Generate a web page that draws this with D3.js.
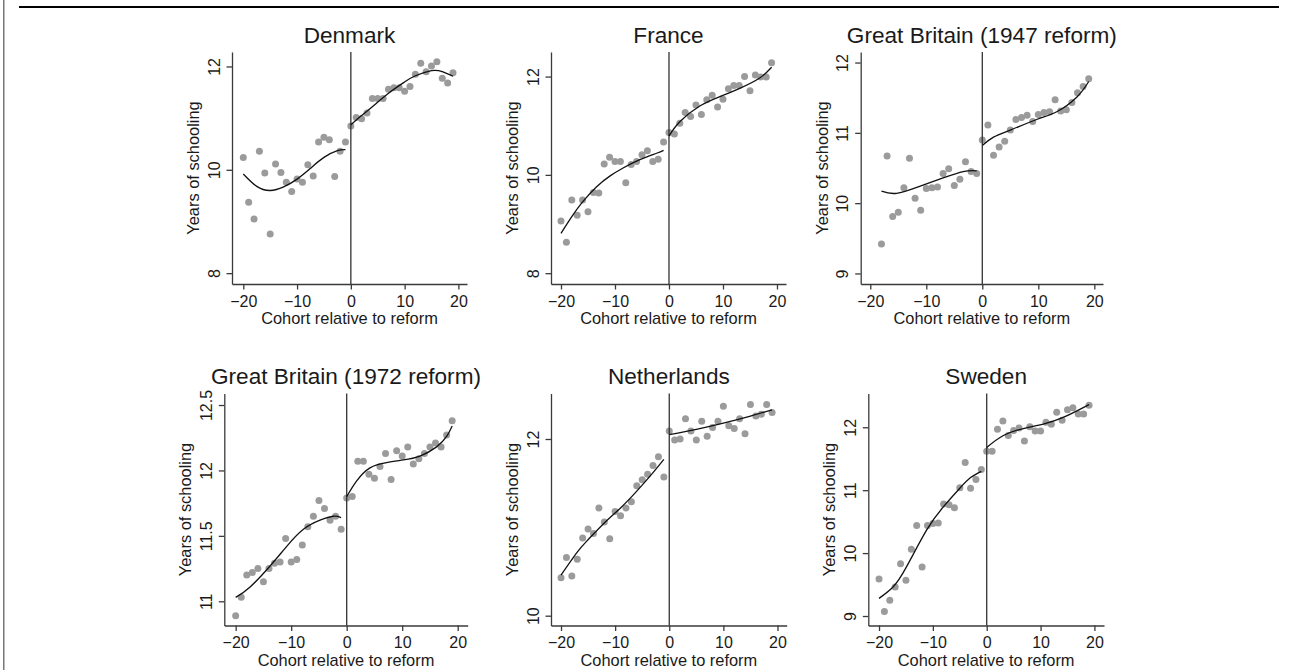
<!DOCTYPE html>
<html>
<head>
<meta charset="utf-8">
<script src="https://cdn.jsdelivr.net/npm/d3@7"></script>
<style>
  html, body { margin: 0; padding: 0; background: #fff; }
  svg { display: block; }
  text { font-family: "Liberation Sans", Arial, Helvetica, sans-serif; fill: #1a1a1a; }
</style>
</head>
<body>
<svg id="chart" width="1291" height="670"></svg>
<script>
// ---------------- DATA ----------------
const cohorts = [-20,-19,-18,-17,-16,-15,-14,-13,-12,-11,-10,-9,-8,-7,-6,-5,-4,-3,-2,-1,
                 0,1,2,3,4,5,6,7,8,9,10,11,12,13,14,15,16,17,18,19];
const cohorts1947 = [-18,-17,-16,-15,-14,-13,-12,-11,-10,-9,-8,-7,-6,-5,-4,-3,-2,-1,
                 0,1,2,3,4,5,6,7,8,9,10,11,12,13,14,15,16,17,18,19];
const xTicks = [-20,-10,0,10,20];

const titles = ["Denmark","France","Great Britain (1947 reform)",
                "Great Britain (1972 reform)","Netherlands","Sweden"];
const xTitle = "Cohort relative to reform";
const yTitle = "Years of schooling";

// Years of schooling by cohort (scatter)
const denmark = [10.24,9.37,9.05,10.36,9.94,8.76,10.11,9.95,9.76,9.58,9.82,9.76,10.10,9.88,10.54,10.63,10.58,9.87,10.36,10.54,
                 10.85,11.01,10.99,11.10,11.38,11.38,11.38,11.56,11.59,11.59,11.52,11.61,11.85,12.06,11.90,12.01,12.09,11.77,11.68,11.88];
const france = [9.06,8.63,9.49,9.18,9.49,9.25,9.64,9.63,10.22,10.36,10.27,10.27,9.84,10.21,10.27,10.41,10.49,10.27,10.32,10.67,
                10.86,10.83,11.05,11.27,11.19,11.42,11.23,11.53,11.62,11.38,11.54,11.75,11.82,11.82,12.00,11.71,12.03,11.99,11.99,12.28];
const gb1947 = [9.42,10.67,9.81,9.87,10.22,10.64,10.07,9.90,10.21,10.22,10.23,10.42,10.49,10.25,10.34,10.59,10.45,10.42,
                10.90,11.11,10.68,10.80,10.88,11.04,11.19,11.22,11.25,11.16,11.26,11.29,11.30,11.47,11.31,11.33,11.43,11.57,11.66,11.77];
const gb1972 = [10.89,11.03,11.20,11.22,11.25,11.15,11.25,11.29,11.30,11.48,11.30,11.32,11.43,11.57,11.65,11.77,11.71,11.62,11.65,11.55,
                11.79,11.80,12.07,12.07,11.97,11.94,12.03,12.13,11.93,12.15,12.11,12.18,12.05,12.09,12.13,12.18,12.21,12.18,12.27,12.38];
const netherlands = [10.43,10.66,10.45,10.64,10.88,10.98,10.93,11.22,11.06,10.87,11.18,11.13,11.22,11.29,11.47,11.54,11.60,11.70,11.80,11.57,
                     12.09,11.99,12.00,12.23,12.09,11.99,12.20,12.03,12.13,12.20,12.37,12.15,12.12,12.23,12.06,12.39,12.26,12.28,12.39,12.30];
const sweden = [9.59,9.07,9.25,9.46,9.83,9.57,10.06,10.44,9.78,10.44,10.47,10.48,10.78,10.77,10.72,11.04,11.44,11.03,11.17,11.33,
                11.62,11.62,11.97,12.10,11.87,11.95,11.99,11.78,12.01,11.94,11.94,12.08,12.05,12.24,12.11,12.28,12.31,12.21,12.21,12.35];

// Fitted curves, [cohort, years]
const denmarkFitPre  = [[-20,9.92],[-17.5,9.68],[-15,9.60],[-12.5,9.67],[-10,9.82],[-7.5,10.03],[-5,10.24],[-2.5,10.37],[-1,10.39]];
const denmarkFitPost = [[0,10.87],[2,11.05],[4,11.22],[7,11.48],[10,11.70],[12,11.82],[15,11.92],[17,11.90],[19,11.81]];
const franceFitPre   = [[-20,8.81],[-18,9.15],[-16,9.45],[-13.4,9.76],[-10.9,9.98],[-8.5,10.14],[-5.4,10.31],[-2.3,10.44],[-1,10.50]];
const franceFitPost  = [[0,10.79],[2,11.08],[5.7,11.40],[9.4,11.59],[13.1,11.76],[16.8,11.97],[19,12.19]];
const gb1947FitPre   = [[-18,10.17],[-15.3,10.14],[-11.2,10.24],[-7,10.36],[-3.4,10.45],[-1,10.46]];
const gb1947FitPost  = [[0,10.82],[2,10.94],[5,11.04],[9.7,11.19],[13.3,11.30],[16.9,11.51],[19,11.73]];
const gb1972FitPre   = [[-20,11.03],[-17.4,11.11],[-13.8,11.27],[-10.8,11.42],[-7.8,11.55],[-4.8,11.62],[-2.4,11.65],[-1,11.64]];
const gb1972FitPost  = [[0,11.80],[1.8,11.92],[4.2,12.02],[7.2,12.06],[10.2,12.08],[13.2,12.11],[16.2,12.18],[18,12.26],[19,12.34]];
const netherlandsFitPre  = [[-20,10.46],[-17,10.72],[-15,10.86],[-12,11.05],[-9,11.22],[-6,11.41],[-3,11.62],[-1,11.77]];
const netherlandsFitPost = [[0,12.05],[5,12.11],[10,12.18],[15,12.26],[19,12.33]];
const swedenFitPre   = [[-20,9.28],[-17.4,9.46],[-14.9,9.78],[-11.2,10.36],[-8.1,10.73],[-5,11.03],[-3,11.20],[-1,11.30]];
const swedenFitPost  = [[0,11.68],[3.1,11.87],[6.8,11.98],[10.5,12.05],[14.3,12.16],[19,12.36]];

// Y tick labels per panel
const denmarkTicks = [8,10,12];
const franceTicks = [8,10,12];
const gb1947Ticks = [9,10,11,12];
const gb1972Ticks = [11,11.5,12,12.5];
const netherlandsTicks = [10,12];
const swedenTicks = [9,10,11,12];

// Axis ranges (value at plot edges)
const xRanges = [[-22.1,21.6],[-21.85,21.67],[-21.71,21.55],[-22.05,21.8],[-21.85,21.7],[-21.99,21.78]];
const yRanges = [[7.79,12.28],[7.78,12.50],[8.85,12.15],[10.815,12.588],[9.889,12.515],[8.849,12.537]];

// ---------------- LAYOUT ----------------
const layout = [
  {l:232,   r:467,   t:52,    b:284},
  {l:551,   r:786,   t:52,    b:284},
  {l:860.7, r:1103,  t:52,    b:284},
  {l:224.3, r:467.7, t:393.5, b:625.5},
  {l:551,   r:786.7, t:393.5, b:625.5},
  {l:868.3, r:1104,  t:393.5, b:625.5}
];

const panels = [
  {values: denmark,     xs: cohorts,     pre: denmarkFitPre,     post: denmarkFitPost,     yt: denmarkTicks},
  {values: france,      xs: cohorts,     pre: franceFitPre,      post: franceFitPost,      yt: franceTicks},
  {values: gb1947,      xs: cohorts1947, pre: gb1947FitPre,      post: gb1947FitPost,      yt: gb1947Ticks},
  {values: gb1972,      xs: cohorts,     pre: gb1972FitPre,      post: gb1972FitPost,      yt: gb1972Ticks},
  {values: netherlands, xs: cohorts,     pre: netherlandsFitPre, post: netherlandsFitPost, yt: netherlandsTicks},
  {values: sweden,      xs: cohorts,     pre: swedenFitPre,      post: swedenFitPost,      yt: swedenTicks}
];

const svg = d3.select("#chart");
svg.append("rect").attr("width",1291).attr("height",670).attr("fill","#fff");

// frame decorations
svg.append("line").attr("x1",19).attr("x2",1279).attr("y1",7).attr("y2",7)
   .attr("stroke","#000").attr("stroke-width",2.2);
svg.append("line").attr("x1",3.75).attr("x2",3.75).attr("y1",0).attr("y2",670)
   .attr("stroke","#777").attr("stroke-width",1.5);

const fmt = d => (d < 0 ? "\u2212" + Math.abs(d) : String(d));
const AX = "#3a3a3a";

panels.forEach((p, i) => {
  const L = layout[i];
  const x = d3.scaleLinear().domain(xRanges[i]).range([L.l, L.r]);
  const y = d3.scaleLinear().domain(yRanges[i]).range([L.b, L.t]);
  const g = svg.append("g");
  const cx = (L.l + L.r) / 2, cy = (L.t + L.b) / 2;

  // title
  g.append("text").attr("x", cx).attr("y", L.t - 9.5)
    .attr("text-anchor","middle").style("font-size","22.6px").text(titles[i]);

  // points
  g.append("g").selectAll("circle").data(p.values).join("circle")
    .attr("cx",(d,j)=>x(p.xs[j])).attr("cy",d=>y(d)).attr("r",3.5)
    .attr("fill","#9b9b9b");

  // vertical line at reform
  g.append("line").attr("x1",x(0)).attr("x2",x(0)).attr("y1",L.t).attr("y2",L.b)
    .attr("stroke","#333").attr("stroke-width",1.3);

  // fit lines
  const line = d3.line().x(d=>x(d[0])).y(d=>y(d[1])).curve(d3.curveNatural);
  [p.pre, p.post].forEach(f => {
    g.append("path").attr("d", line(f)).attr("fill","none")
      .attr("stroke","#111").attr("stroke-width",1.3);
  });

  // x axis
  const xa = g.append("g").attr("transform",`translate(0,${L.b})`)
    .call(d3.axisBottom(x).tickValues(xTicks).tickFormat(fmt).tickSize(5.5).tickSizeOuter(0));
  xa.select(".domain").attr("stroke",AX).attr("stroke-width",1.3);
  xa.selectAll(".tick line").attr("stroke",AX).attr("stroke-width",1.3);
  xa.selectAll(".tick text").attr("y",22.7).attr("dy",0)
    .style("font-size","16px").attr("fill","#1a1a1a").attr("font-family",null);

  // y axis
  const ya = g.append("g").attr("transform",`translate(${L.l},0)`)
    .call(d3.axisLeft(y).tickValues(p.yt).tickFormat(fmt).tickSize(5.5).tickSizeOuter(0));
  ya.select(".domain").attr("stroke",AX).attr("stroke-width",1.3);
  ya.selectAll(".tick line").attr("stroke",AX).attr("stroke-width",1.3);
  ya.selectAll(".tick text").attr("x",0).attr("y",0).attr("dy",0)
    .attr("text-anchor","middle").attr("transform","translate(-12.5,0) rotate(-90)")
    .style("font-size","16px").attr("fill","#1a1a1a").attr("font-family",null);

  // axis titles
  g.append("text").attr("x",cx).attr("y",L.b + 40).attr("text-anchor","middle")
    .style("font-size","16.4px").text(xTitle);
  g.append("text").attr("text-anchor","middle")
    .attr("transform",`translate(${L.l - 33},${cy}) rotate(-90)`)
    .style("font-size","16.4px").text(yTitle);
});
</script>
</body>
</html>
